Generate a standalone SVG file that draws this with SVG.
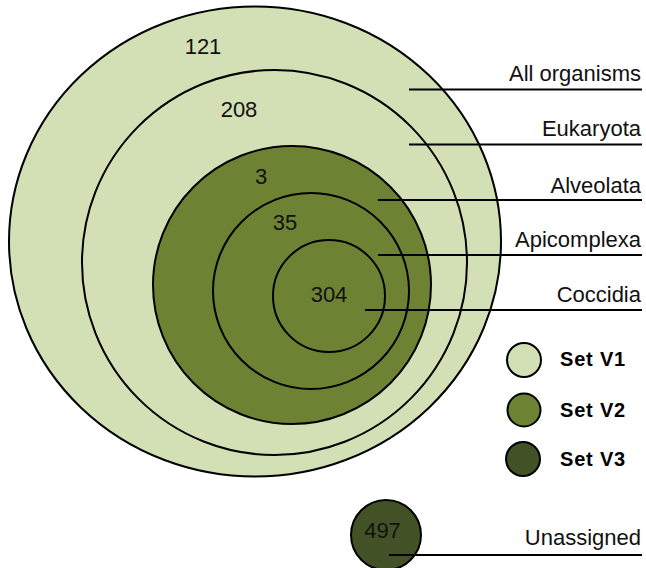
<svg xmlns="http://www.w3.org/2000/svg" width="646" height="568" viewBox="0 0 646 568">
<style>
.c{stroke:#000;stroke-width:2}
.v1{fill:#D3DFB5}
.v2{fill:#6E8233}
.v3{fill:#435126}
.ln{stroke:#000;stroke-width:2;fill:none}
.lb{font-family:"Liberation Sans",Arial,sans-serif;font-size:22px;fill:#111;text-anchor:end}
.nm{font-family:"Liberation Sans",Arial,sans-serif;font-size:22px;fill:#111;text-anchor:middle}
.lg{font-family:"Liberation Sans",Arial,sans-serif;font-size:20px;font-weight:bold;fill:#000;letter-spacing:0.8px}
</style>
<rect width="646" height="568" fill="#fff"/>
<g id="all-organisms"><ellipse class="c v1" cx="255" cy="241.5" rx="246" ry="235"/></g>
<g id="eukaryota"><circle class="c v1" cx="274.5" cy="262.5" r="192.5"/></g>
<g id="alveolata"><circle class="c v2" cx="292" cy="285" r="139"/></g>
<g id="apicomplexa"><circle class="c v2" cx="311" cy="291" r="98"/></g>
<g id="coccidia"><circle class="c v2" cx="329" cy="296" r="56"/></g>
<g id="unassigned"><circle class="c v3" cx="386" cy="535" r="35"/></g>
<g id="connectors">
<line class="ln" x1="409" y1="89.5" x2="642" y2="89.5"/>
<line class="ln" x1="409" y1="144.5" x2="642" y2="144.5"/>
<line class="ln" x1="378" y1="200" x2="642" y2="200"/>
<line class="ln" x1="378" y1="255" x2="642" y2="255"/>
<line class="ln" x1="365" y1="310" x2="642" y2="310"/>
<line class="ln" x1="389" y1="555" x2="642" y2="555"/>
</g>
<g id="labels">
<text class="lb" x="641" y="81">All organisms</text>
<text class="lb" x="641" y="136">Eukaryota</text>
<text class="lb" x="641" y="193">Alveolata</text>
<text class="lb" x="641" y="247">Apicomplexa</text>
<text class="lb" x="641" y="302">Coccidia</text>
<text class="lb" x="641" y="545">Unassigned</text>
</g>
<g id="counts">
<text class="nm" x="203" y="54">121</text>
<text class="nm" x="239" y="117">208</text>
<text class="nm" x="261" y="184">3</text>
<text class="nm" x="285" y="230">35</text>
<text class="nm" x="329" y="302">304</text>
<text class="nm" x="382.5" y="538">497</text>
</g>
<g id="legend">
<g id="legend-v1"><circle class="c v1" cx="524" cy="360" r="17"/><text class="lg" x="560" y="366">Set V1</text></g>
<g id="legend-v2"><circle class="c v2" cx="524" cy="410" r="16.5"/><text class="lg" x="560" y="417">Set V2</text></g>
<g id="legend-v3"><circle class="c v3" cx="523" cy="459" r="17"/><text class="lg" x="560" y="466">Set V3</text></g>
</g>
</svg>
